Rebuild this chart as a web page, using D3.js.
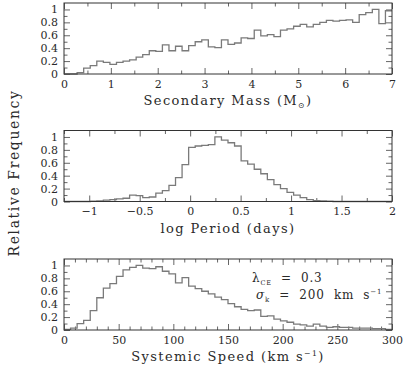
<!DOCTYPE html>
<html>
<head>
<meta charset="utf-8">
<script src="https://cdn.jsdelivr.net/npm/d3@7"></script>
<style>
  html, body { margin: 0; padding: 0; background: #fff; }
  svg text { font-family: "DejaVu Serif", "Liberation Serif", serif; fill: #2a2a2a; white-space: pre; }
</style>
</head>
<body>
<div id="chart"></div>
<script>
// ---- data (50 bins per panel) ----
const massValues = [0, 0, 0.02, 0.09, 0.13, 0.2, 0.18, 0.15, 0.18, 0.2,
  0.22, 0.26, 0.3, 0.36, 0.35, 0.45, 0.36, 0.43, 0.36, 0.44,
  0.5, 0.53, 0.42, 0.41, 0.53, 0.46, 0.48, 0.56, 0.55, 0.68,
  0.59, 0.61, 0.58, 0.68, 0.7, 0.74, 0.77, 0.73, 0.77, 0.8,
  0.83, 0.82, 0.83, 0.84, 0.8, 0.92, 0.95, 1.0, 0.78, 0.98];
const periodValues = [0, 0, 0, 0, 0.005, 0.01, 0.02, 0.03, 0.04, 0.05,
  0.1, 0.09, 0.06, 0.07, 0.13, 0.17, 0.25, 0.37, 0.57, 0.84,
  0.86, 0.87, 0.88, 1.0, 0.95, 0.91, 0.86, 0.63, 0.58, 0.5,
  0.43, 0.34, 0.26, 0.2, 0.14, 0.1, 0.06, 0.03, 0.015, 0.01,
  0.005, 0, 0, 0, 0, 0, 0, 0, 0, 0];
const speedValues = [0.01, 0.03, 0.1, 0.15, 0.3, 0.5, 0.65, 0.72, 0.83, 0.93,
  0.97, 1.0, 0.96, 0.95, 0.98, 0.91, 0.87, 0.73, 0.81, 0.68,
  0.64, 0.6, 0.56, 0.51, 0.47, 0.41, 0.36, 0.32, 0.3, 0.31,
  0.21, 0.22, 0.17, 0.14, 0.12, 0.09, 0.08, 0.06, 0.09, 0.06,
  0.04, 0.05, 0.04, 0.04, 0.03, 0.03, 0.03, 0.02, 0.02, 0.01];

const massTicks = [0, 1, 2, 3, 4, 5, 6, 7];
const periodTicks = [-1, -0.5, 0, 0.5, 1, 1.5, 2];
const speedTicks = [0, 50, 100, 150, 200, 250, 300];
const freqTicks = [0, 0.2, 0.4, 0.6, 0.8, 1];

const W = 403, H = 377;
const left = 64, right = 392, panelH = 71;

const svg = d3.select("#chart").append("svg")
  .attr("width", W).attr("height", H);

const fmtNum = d => (d < 0 ? "\u2212" : "") + Math.abs(d);

// title parts: [text, mode] mode 0 = normal, 1 = subscript, 2 = superscript
const panels = [
  { top: 3, values: massValues, domain: [0, 7], ticks: massTicks, minor: 0.5, major: 1,
    title: [["Secondary Mass (M", 0], ["\u2299", 1], [")", 0]] },
  { top: 130.5, values: periodValues, domain: [-1.25, 2], ticks: periodTicks, minor: 0.25, major: 0.5,
    title: [["log Period (days)", 0]] },
  { top: 259, values: speedValues, domain: [0, 300], ticks: speedTicks, minor: 10, major: 50,
    title: [["Systemic Speed (km s", 0], ["\u22121", 2], [")", 0]] }
];

function range(a, b, step) {
  const out = [];
  for (let v = a; v <= b + 1e-9; v += step) out.push(+v.toFixed(6));
  return out;
}

function addText(g, parts, x, y, size) {
  const t = g.append("text").attr("x", x).attr("y", y)
    .attr("text-anchor", "middle").style("font-size", size + "px")
    .style("letter-spacing", "1.4px");
  let shift = 0;
  parts.forEach(([s, mode]) => {
    const sp = t.append("tspan").text(s);
    const target = mode === 1 ? 3 : mode === 2 ? -5 : 0;
    if (target !== shift) sp.attr("dy", target - shift);
    shift = target;
    if (mode) sp.style("font-size", (size * 0.6) + "px");
  });
  return t;
}

panels.forEach(p => {
  const bottom = p.top + panelH;
  const x = d3.scaleLinear().domain(p.domain).range([left, right]);
  const y = d3.scaleLinear().domain([0, 1.1]).range([bottom, p.top]);
  const g = svg.append("g");

  const minorX = range(p.domain[0], p.domain[1], p.minor).filter(v => Math.abs(v / p.major - Math.round(v / p.major)) > 1e-6);
  const majorX = range(Math.ceil(p.domain[0] / p.major) * p.major, p.domain[1], p.major);
  const minorY = [0.1, 0.3, 0.5, 0.7, 0.9];
  const majorY = freqTicks;

  const tickAxis = (axisFn, scale, vals, len, transform) => {
    g.append("g").attr("transform", transform)
      .call(axisFn(scale).tickValues(vals).tickSize(-len).tickFormat(""))
      .call(a => a.select(".domain").remove())
      .selectAll("line").attr("stroke", "#666").attr("stroke-width", 1);
  };
  [[majorX, 6], [minorX, 3.5]].forEach(([vals, len]) => {
    tickAxis(d3.axisBottom, x, vals, len, `translate(0,${bottom})`);
    tickAxis(d3.axisTop, x, vals, len, `translate(0,${p.top})`);
  });
  [[majorY, 6], [minorY, 3.5]].forEach(([vals, len]) => {
    tickAxis(d3.axisLeft, y, vals, len, `translate(${left},0)`);
    tickAxis(d3.axisRight, y, vals, len, `translate(${right},0)`);
  });

  // histogram outline
  const n = p.values.length;
  const bw = (p.domain[1] - p.domain[0]) / n;
  const pts = p.values.map((v, i) => [p.domain[0] + i * bw, v]);
  pts.push([p.domain[1], p.values[n - 1]]);
  const line = d3.line().x(d => x(d[0])).y(d => y(d[1])).curve(d3.curveStepAfter);
  g.append("path").datum(pts)
    .attr("fill", "none").attr("stroke", "#7a7a7a").attr("stroke-width", 1.3)
    .attr("d", line);

  // frame
  g.append("rect").attr("x", left).attr("y", p.top)
    .attr("width", right - left).attr("height", panelH)
    .attr("fill", "none").attr("stroke", "#333").attr("stroke-width", 1);

  // tick labels
  g.append("g").attr("transform", `translate(0,${bottom})`)
    .call(d3.axisBottom(x).tickValues(p.ticks).tickSize(0).tickPadding(6).tickFormat(fmtNum))
    .call(a => a.select(".domain").remove())
    .selectAll("text").style("font-size", "11px").attr("fill", "#2a2a2a")
    .style("font-family", "DejaVu Serif, serif");
  g.append("g").attr("transform", `translate(${left},0)`)
    .call(d3.axisLeft(y).tickValues(freqTicks).tickSize(0).tickPadding(6).tickFormat(d => d))
    .call(a => a.select(".domain").remove())
    .selectAll("text").style("font-size", "11px").attr("fill", "#2a2a2a")
    .style("font-family", "DejaVu Serif, serif");

  addText(g, p.title, (left + right) / 2, bottom + 31, 13);
});

// shared y label
svg.append("text")
  .attr("transform", `translate(19,173) rotate(-90)`)
  .attr("text-anchor", "middle")
  .style("font-size", "14px")
  .style("letter-spacing", "1.6px")
  .text("Relative Frequency");

// annotation in bottom panel
const ann = svg.append("g").style("font-size", "12px").style("letter-spacing", "0.8px");
const t1 = ann.append("text").attr("x", 252).attr("y", 282);
t1.append("tspan").text("\u03bb");
t1.append("tspan").text("CE").attr("dy", 3).style("font-size", "6.5px");
t1.append("tspan").text("  =  0.3").attr("dy", -3);
const t2 = ann.append("text").attr("x", 256).attr("y", 299);
t2.append("tspan").text("\u03c3").style("font-style", "italic");
t2.append("tspan").text("k").attr("dy", 3).style("font-size", "7px");
t2.append("tspan").text("  =  200  km  s").attr("dy", -3);
t2.append("tspan").text("\u22121").attr("dy", -5).style("font-size", "7px");
</script>
</body>
</html>
